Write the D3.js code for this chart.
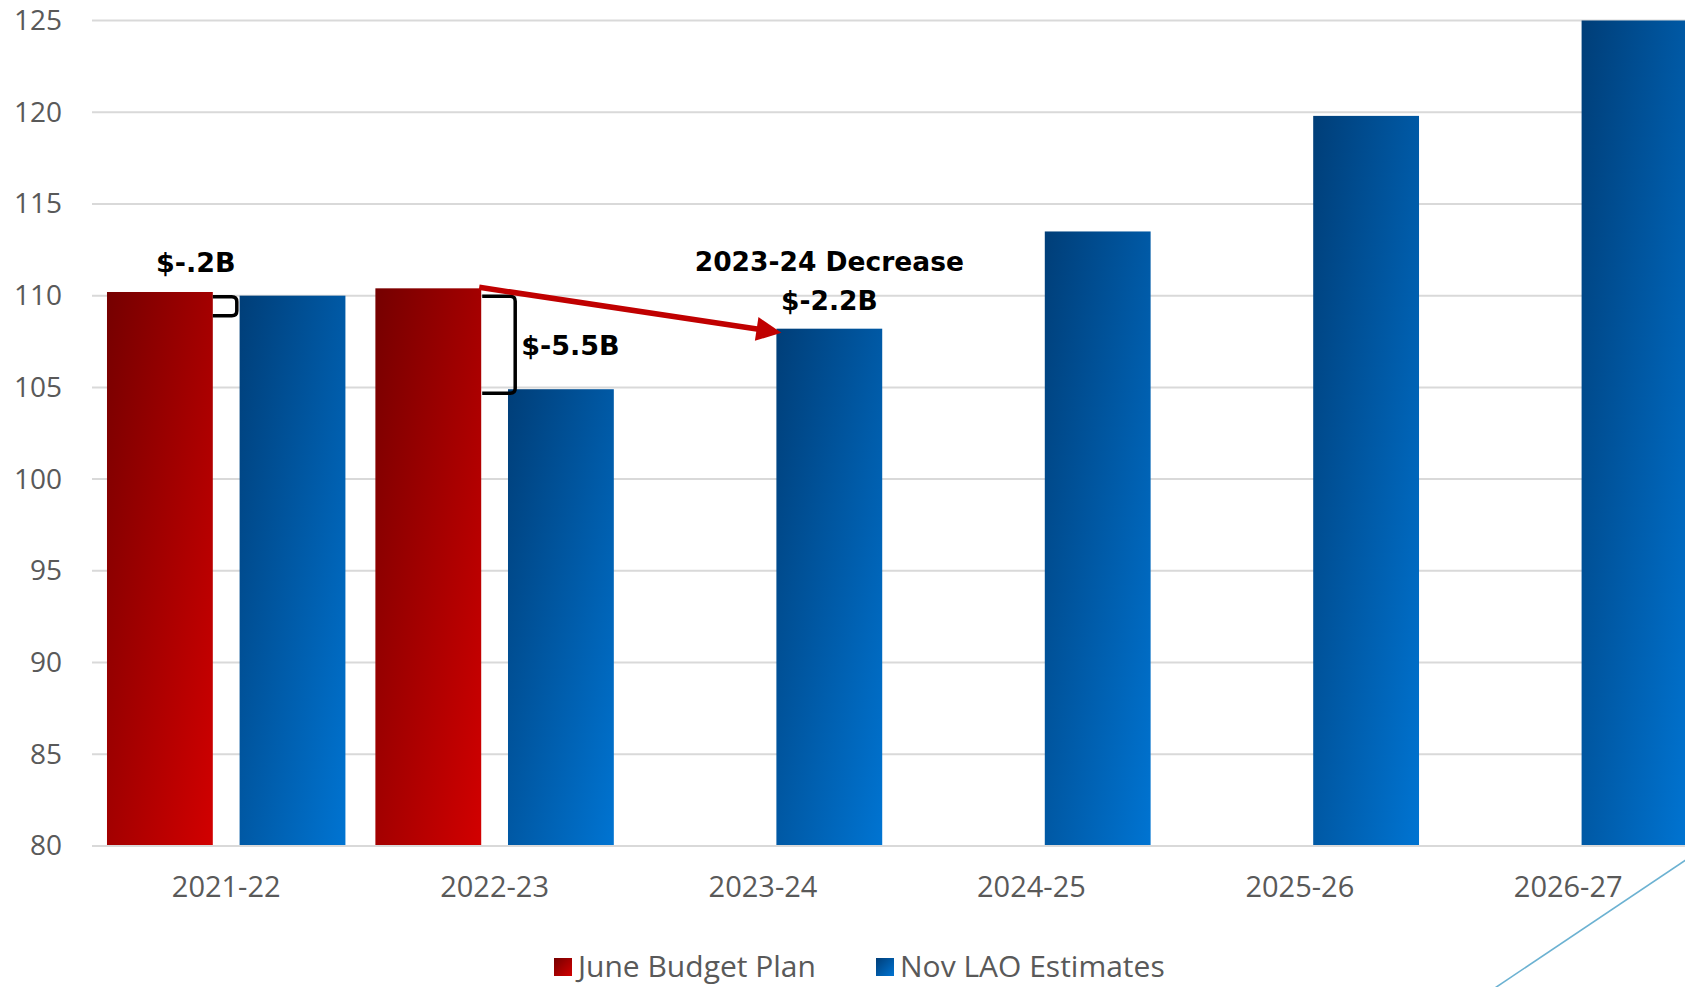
<!DOCTYPE html>
<html>
<head>
<meta charset="utf-8">
<script src="https://cdn.jsdelivr.net/npm/d3@7"></script>
<style>
  html, body { margin: 0; padding: 0; background: #ffffff; overflow: hidden; }
  svg { display: block; }
</style>
</head>
<body>
<svg id="chart" width="1685" height="987"></svg>
<script>
// Fiscal years and the two revenue estimates (billions of dollars)
const categories = ['2021-22', '2022-23', '2023-24', '2024-25', '2025-26', '2026-27'];
const seriesNames = ['June Budget Plan', 'Nov LAO Estimates'];
const juneBudget = [110.2, 110.4, null, null, null, null];
const novLAO = [110.0, 104.9, 108.2, 113.5, 119.8, 125.0];
const yTicks = [80, 85, 90, 95, 100, 105, 110, 115, 120, 125];

// Callout texts
const gapLabel2122 = '$-.2B';
const gapLabel2223 = '$-5.5B';
const decreaseTitle = '2023-24 Decrease';
const decreaseLabel = '$-2.2B';

const W = 1685, H = 987;
const svg = d3.select('#chart');

const plotLeft = 92;
const bandStep = 268.4;
const x = d3.scaleBand()
  .domain(categories)
  .range([plotLeft, plotLeft + bandStep * categories.length])
  .paddingInner(0).paddingOuter(0);

const xs = d3.scaleBand()
  .domain(seriesNames)
  .range([0, x.bandwidth()])
  .paddingInner(0.202)
  .paddingOuter(0.113);

const y = d3.scaleLinear().domain([80, 125]).range([846, 20.5]);

// Gradients: dark at the top-left corner, bright at the bottom-right corner
const defs = svg.append('defs');
function addGrad(id, c0, c1) {
  const g = defs.append('linearGradient').attr('id', id)
    .attr('x1', 0).attr('y1', 0).attr('x2', 1).attr('y2', 1);
  g.append('stop').attr('offset', '0%').attr('stop-color', c0);
  g.append('stop').attr('offset', '100%').attr('stop-color', c1);
}
addGrad('gradRed', '#750000', '#d20000');
addGrad('gradBlue', '#003e78', '#0074d2');
const fills = { 'June Budget Plan': 'url(#gradRed)', 'Nov LAO Estimates': 'url(#gradBlue)' };

// Gridlines
svg.append('g')
  .selectAll('line')
  .data(yTicks)
  .join('line')
  .attr('x1', plotLeft).attr('x2', W)
  .attr('y1', d => y(d)).attr('y2', d => y(d))
  .attr('stroke', '#d9d9d9').attr('stroke-width', 2);

// Y axis labels
const yAxis = d3.axisLeft(y).tickValues(yTicks).tickSize(0).tickPadding(30);
const yg = svg.append('g').attr('transform', `translate(${plotLeft},0)`).call(yAxis);
yg.select('.domain').remove();
yg.selectAll('text')
  .attr('fill', '#595959')
  .style('font-family', '"Open Sans", "Noto Sans", sans-serif')
  .style('font-size', '28px');

// Bars
const rows = categories.map((c, i) => ({ cat: c, values: [
  { series: seriesNames[0], v: juneBudget[i] },
  { series: seriesNames[1], v: novLAO[i] }
]}));

svg.append('g')
  .selectAll('g')
  .data(rows)
  .join('g')
  .attr('transform', d => `translate(${x(d.cat)},0)`)
  .selectAll('rect')
  .data(d => d.values.filter(e => e.v != null))
  .join('rect')
  .attr('x', d => xs(d.series))
  .attr('width', xs.bandwidth())
  .attr('y', d => y(d.v))
  .attr('height', d => y(80) - y(d.v))
  .attr('fill', d => fills[d.series]);

// X axis baseline and labels
svg.append('line')
  .attr('x1', plotLeft).attr('x2', W)
  .attr('y1', y(80)).attr('y2', y(80))
  .attr('stroke', '#d9d9d9').attr('stroke-width', 2);

const xAxis = d3.axisBottom(x).tickSize(0).tickPadding(30.5);
const xg = svg.append('g').attr('transform', `translate(0,${y(80)})`).call(xAxis);
xg.select('.domain').remove();
xg.selectAll('text')
  .attr('fill', '#595959')
  .style('font-family', '"Open Sans", "Noto Sans", sans-serif')
  .style('font-size', '29px');

// Callouts
const annFont = '"DejaVu Sans", Verdana, sans-serif';
const ann = svg.append('g');

function bracket(x0, x1, y0, y1) {
  const r = 5;
  return `M${x0},${y0} L${x1 - r},${y0} Q${x1},${y0} ${x1},${y0 + r} ` +
         `L${x1},${y1 - r} Q${x1},${y1} ${x1 - r},${y1} L${x0},${y1}`;
}

// 2021-22 gap
const red0Right = x(categories[0]) + xs(seriesNames[0]) + xs.bandwidth();
ann.append('path')
  .attr('d', bracket(red0Right, red0Right + 24, y(novLAO[0]) + 1, y(novLAO[0]) + 20))
  .attr('fill', 'none').attr('stroke', '#000').attr('stroke-width', 3.5);
ann.append('text')
  .attr('x', red0Right - 17).attr('y', y(juneBudget[0]) - 20)
  .attr('text-anchor', 'middle')
  .style('font-family', annFont).style('font-weight', 'bold').style('font-size', '27px')
  .attr('fill', '#000')
  .text(gapLabel2122);

// 2022-23 gap
const red1Right = x(categories[1]) + xs(seriesNames[0]) + xs.bandwidth();
const b1Top = y(juneBudget[1]) + 8, b1Bot = y(novLAO[1]) + 4;
ann.append('path')
  .attr('d', bracket(red1Right + 1, red1Right + 34, b1Top, b1Bot))
  .attr('fill', 'none').attr('stroke', '#000').attr('stroke-width', 3.5);
ann.append('text')
  .attr('x', red1Right + 40).attr('y', (b1Top + b1Bot) / 2 + 10)
  .style('font-family', annFont).style('font-weight', 'bold').style('font-size', '27px')
  .attr('fill', '#000')
  .text(gapLabel2223);

// Arrow from the 2022-23 plan to the 2023-24 estimate
const ax0 = red1Right - 2, ay0 = y(juneBudget[1]) - 1;
const blue2Left = x(categories[2]) + xs(seriesNames[1]);
const ax1 = blue2Left + 5, ay1 = y(novLAO[2]) + 4;
const ang = Math.atan2(ay1 - ay0, ax1 - ax0);
const headLen = 25, headHalf = 12;
const bx = ax1 - headLen * Math.cos(ang), by = ay1 - headLen * Math.sin(ang);
ann.append('line')
  .attr('x1', ax0).attr('y1', ay0).attr('x2', bx + 2 * Math.cos(ang)).attr('y2', by + 2 * Math.sin(ang))
  .attr('stroke', '#c00000').attr('stroke-width', 5.5);
ann.append('polygon')
  .attr('points', [
    [ax1, ay1],
    [bx - headHalf * Math.sin(ang), by + headHalf * Math.cos(ang)],
    [bx + headHalf * Math.sin(ang), by - headHalf * Math.cos(ang)]
  ].map(p => p.join(',')).join(' '))
  .attr('fill', '#c00000');

const blue2Center = blue2Left + xs.bandwidth() / 2;
ann.append('text')
  .attr('x', blue2Center).attr('y', y(novLAO[2]) - 58)
  .attr('text-anchor', 'middle')
  .style('font-family', annFont).style('font-weight', 'bold').style('font-size', '26.5px')
  .attr('fill', '#000')
  .text(decreaseTitle);
ann.append('text')
  .attr('x', blue2Center).attr('y', y(novLAO[2]) - 19)
  .attr('text-anchor', 'middle')
  .style('font-family', annFont).style('font-weight', 'bold').style('font-size', '26.5px')
  .attr('fill', '#000')
  .text(decreaseLabel);

// Legend
const legend = svg.append('g');
const legendItems = [
  { name: seriesNames[0], fill: 'url(#gradRed)', x: 554 },
  { name: seriesNames[1], fill: 'url(#gradBlue)', x: 876 }
];
const lg = legend.selectAll('g').data(legendItems).join('g')
  .attr('transform', d => `translate(${d.x},0)`);
lg.append('rect')
  .attr('x', 0).attr('y', 958).attr('width', 18).attr('height', 18)
  .attr('fill', d => d.fill);
lg.append('text')
  .attr('x', 24).attr('y', 977)
  .attr('fill', '#595959')
  .style('font-family', '"Open Sans", "Noto Sans", sans-serif')
  .style('font-size', '30px')
  .text(d => d.name);

// Thin decorative rule in the lower right corner
svg.append('line')
  .attr('x1', 1720).attr('y1', 837).attr('x2', 1480).attr('y2', 998)
  .attr('stroke', '#6cb2d2').attr('stroke-width', 1.6);
</script>
</body>
</html>
